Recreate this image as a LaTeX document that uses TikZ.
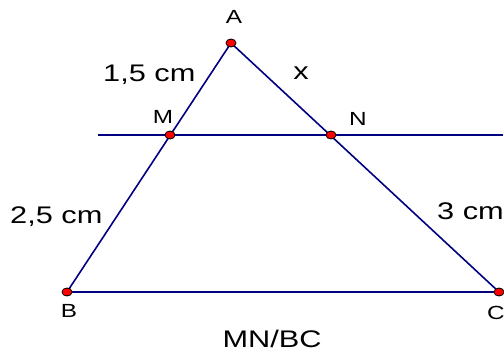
\documentclass[tikz,border=0pt]{standalone}
\usepackage{fontspec}
\setmainfont{Liberation Sans}
\usetikzlibrary{shapes.geometric}
\tikzset{
  seg/.style={draw={rgb,255:red,0;green,0;blue,128}, line width=1.6pt},
  pt/.style={ellipse, draw=black, fill=red, line width=0.8pt, minimum width=10pt, minimum height=8pt, inner sep=0pt},
  ptlab/.style={inner sep=0pt, font=\fontsize{19}{19}\selectfont},
  meas/.style={inner sep=0pt, font=\fontsize{24}{24}\selectfont},
}
\newcommand{\wide}[1]{\scalebox{1.28}[1]{#1}}
\begin{document}
\begin{tikzpicture}[x=1pt,y=1pt]
\useasboundingbox (0,0) rectangle (504,354);
\coordinate (A) at (231,311);
\coordinate (M) at (170,219);
\coordinate (N) at (331,219);
\coordinate (B) at (67,62);
\coordinate (C) at (499,62);
\coordinate (L) at (98,219);
\coordinate (R) at (503,219);
\draw[seg] (L) -- (R);
\draw[seg] (B) -- (A) -- (C) -- cycle;
\foreach \p in {A,M,N,B,C} \node[pt] (d\p) at (\p) {};
\node[ptlab] (lA) at (234,337) {\wide{A}};
\node[ptlab] (lM) at (163,237) {\wide{M}};
\node[ptlab] (lN) at (358,235) {\wide{N}};
\node[ptlab] (lB) at (69,43) {\wide{B}};
\node[ptlab] (lC) at (496,41) {\wide{C}};
\node[meas, anchor=west] (m1) at (103,279) {\wide{1,5 cm}};
\node[meas] (mx) at (301,281) {\wide{x}};
\node[meas, anchor=west] (m2) at (10,137) {\wide{2,5 cm}};
\node[meas, anchor=west] (m3) at (437,143) {\wide{3 cm}};
\node[meas] (cap) at (272,15) {\wide{MN/BC}};
\end{tikzpicture}
\end{document}
